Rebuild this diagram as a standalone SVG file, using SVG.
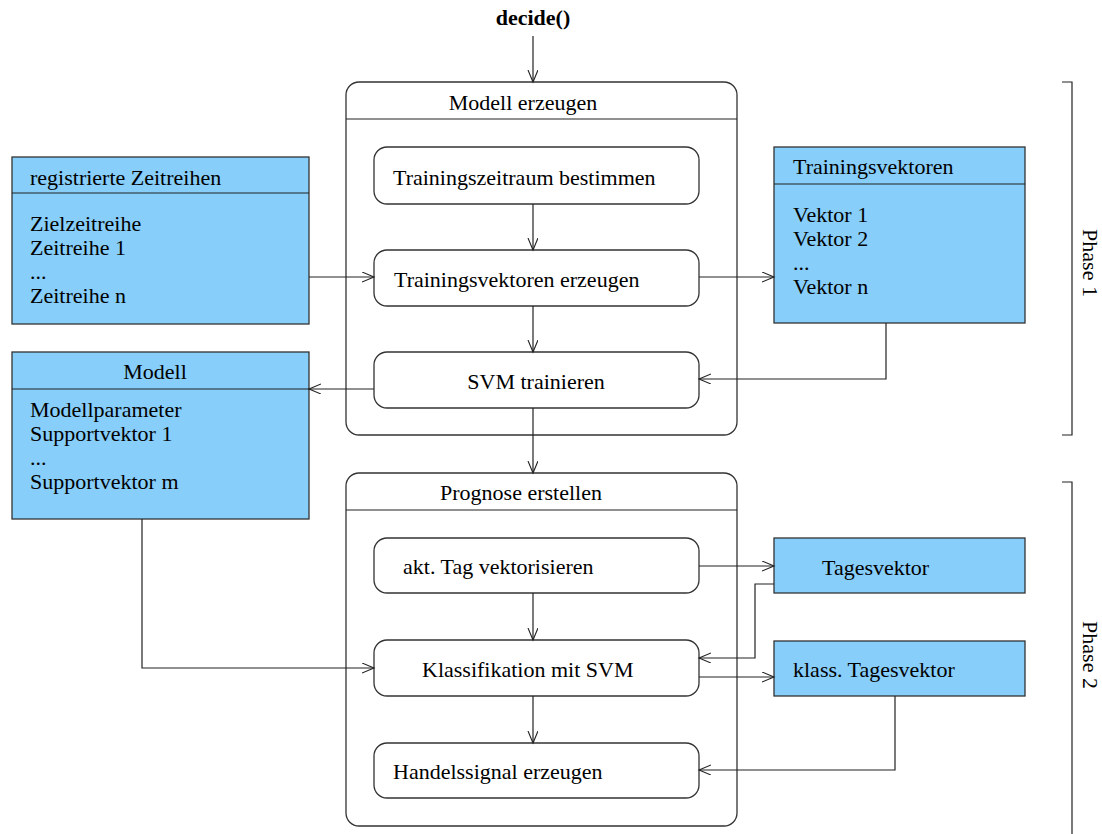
<svg xmlns="http://www.w3.org/2000/svg" width="1102" height="834" viewBox="0 0 1102 834">
<style>
text{font-family:"Liberation Serif","Times New Roman",serif;font-size:22px;fill:#000}
.c{text-anchor:middle}
.b{font-weight:bold}
.st{fill:#fff;stroke:#333;stroke-width:1.3}
.obj{fill:#87cefa;stroke:#333;stroke-width:1.3}
.ln{fill:none;stroke:#222;stroke-width:1.2}
.con{fill:none;stroke:#222;stroke-width:1.2}
</style>
<defs>
<marker id="a" markerUnits="userSpaceOnUse" markerWidth="14" markerHeight="12" refX="12" refY="5" orient="auto">
<path d="M0,0 L12,5 L0,10" fill="none" stroke="#222" stroke-width="1.1"/>
</marker>
</defs>
<text class="c b" x="533" y="25">decide()</text>
<g id="modell-erzeugen">
<rect class="st" x="346" y="82" width="391" height="353" rx="13"/>
<line class="ln" x1="346" y1="119" x2="737" y2="119"/>
<text class="c" x="523" y="110">Modell erzeugen</text>
</g>
<g id="trainingszeitraum">
<rect class="st" x="374" y="147" width="325" height="57" rx="13"/>
<text x="393" y="185">Trainingszeitraum bestimmen</text>
</g>
<g id="trainingsvektoren-erzeugen">
<rect class="st" x="374" y="250" width="325" height="56" rx="13"/>
<text x="394" y="287">Trainingsvektoren erzeugen</text>
</g>
<g id="svm-trainieren">
<rect class="st" x="374" y="352" width="325" height="56" rx="13"/>
<text class="c" x="536" y="389">SVM trainieren</text>
</g>
<g id="prognose-erstellen">
<rect class="st" x="346" y="473" width="391" height="353" rx="13"/>
<line class="ln" x1="346" y1="510" x2="737" y2="510"/>
<text class="c" x="521" y="500">Prognose erstellen</text>
</g>
<g id="akt-tag">
<rect class="st" x="374" y="538" width="325" height="55" rx="13"/>
<text x="403" y="574">akt. Tag vektorisieren</text>
</g>
<g id="klassifikation">
<rect class="st" x="374" y="640" width="325" height="56" rx="13"/>
<text x="422" y="677">Klassifikation mit SVM</text>
</g>
<g id="handelssignal">
<rect class="st" x="374" y="743" width="325" height="55" rx="13"/>
<text x="393" y="779">Handelssignal erzeugen</text>
</g>
<g id="registrierte-zeitreihen">
<rect class="obj" x="12" y="157" width="297" height="167"/>
<line class="ln" x1="12" y1="193" x2="309" y2="193"/>
<text x="30" y="185">registrierte Zeitreihen</text>
<text x="30" y="231">Zielzeitreihe</text>
<text x="30" y="255">Zeitreihe 1</text>
<text x="30" y="279">...</text>
<text x="30" y="303">Zeitreihe n</text>
</g>
<g id="modell">
<rect class="obj" x="12" y="352" width="297" height="167"/>
<line class="ln" x1="12" y1="389" x2="309" y2="389"/>
<text class="c" x="155" y="379">Modell</text>
<text x="30" y="417">Modellparameter</text>
<text x="30" y="441">Supportvektor 1</text>
<text x="30" y="465">...</text>
<text x="30" y="489">Supportvektor m</text>
</g>
<g id="trainingsvektoren">
<rect class="obj" x="774" y="147" width="251" height="176"/>
<line class="ln" x1="774" y1="184" x2="1025" y2="184"/>
<text x="793" y="174">Trainingsvektoren</text>
<text x="793" y="222">Vektor 1</text>
<text x="793" y="246">Vektor 2</text>
<text x="793" y="270">...</text>
<text x="793" y="294">Vektor n</text>
</g>
<g id="tagesvektor">
<rect class="obj" x="774" y="538" width="251" height="55"/>
<text x="822" y="575">Tagesvektor</text>
</g>
<g id="klass-tagesvektor">
<rect class="obj" x="774" y="641" width="251" height="55"/>
<text x="793" y="677">klass. Tagesvektor</text>
</g>
<g id="phase1">
<polyline class="ln" points="1062,82 1072,82 1072,435 1062,435"/>
<text class="c" transform="translate(1083,263) rotate(90)">Phase 1</text>
</g>
<g id="phase2">
<polyline class="ln" points="1062,482 1072,482 1072,834"/>
<text class="c" transform="translate(1083,655) rotate(90)">Phase 2</text>
</g>
<g id="connectors">
<path class="con" d="M533,36 V82" marker-end="url(#a)"/>
<path class="con" d="M533,204 V250" marker-end="url(#a)"/>
<path class="con" d="M533,306 V352" marker-end="url(#a)"/>
<path class="con" d="M533,408 V473" marker-end="url(#a)"/>
<path class="con" d="M533,593 V640" marker-end="url(#a)"/>
<path class="con" d="M533,696 V743" marker-end="url(#a)"/>
<path class="con" d="M309,277 H374" marker-end="url(#a)"/>
<path class="con" d="M699,277 H774" marker-end="url(#a)"/>
<path class="con" d="M886,323 V379 H699" marker-end="url(#a)"/>
<path class="con" d="M374,389 H309" marker-end="url(#a)"/>
<path class="con" d="M142,519 V668 H374" marker-end="url(#a)"/>
<path class="con" d="M699,566 H774" marker-end="url(#a)"/>
<path class="con" d="M774,584 H755 V658 H699" marker-end="url(#a)"/>
<path class="con" d="M699,677 H774" marker-end="url(#a)"/>
<path class="con" d="M895,696 V770 H699" marker-end="url(#a)"/>
</g>
</svg>
